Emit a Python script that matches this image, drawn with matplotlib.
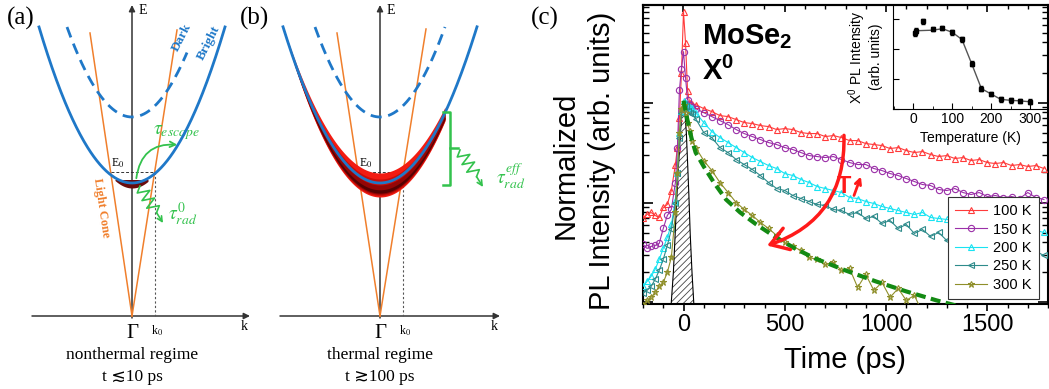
import numpy as np
import matplotlib
matplotlib.use("Agg")
import matplotlib.pyplot as plt
from matplotlib.patches import FancyArrowPatch
from matplotlib.ticker import MultipleLocator, LogLocator, NullFormatter

W, H = 1049, 389

plt.rcParams['font.family'] = ['Liberation Sans', 'DejaVu Sans']
plt.rcParams['mathtext.fontset'] = 'custom'
plt.rcParams['mathtext.rm'] = 'Liberation Sans'
plt.rcParams['mathtext.it'] = 'Liberation Sans:italic'
plt.rcParams['mathtext.bf'] = 'Liberation Sans:bold'
plt.rcParams['hatch.linewidth'] = 0.6
SERIF = ['Liberation Serif', 'DejaVu Serif', 'DejaVu Sans']

# ---------------- panel (c) data: log10 of normalized PL intensity
time_rise = [-200, -180, -160, -140, -120, -100, -80, -60, -40, -30, -20, -10, 0, 10, 20, 30, 40]
time_tail = np.arange(60, 1781, 40)
time_ps = np.concatenate([time_rise, time_tail])

pl_100K = [-1.16, -1.12, -1.10, -1.13, -1.15, -1.05, -1.02, -0.88, -0.62, -0.45, -0.15, 0.30, 0.91, 0.60, 0.12, 0.00, -0.01,
           -0.02, -0.06, -0.09, -0.13, -0.14, -0.17, -0.20, -0.21, -0.23, -0.24, -0.27, -0.26, -0.27, -0.30, -0.31,
           -0.31, -0.34, -0.33, -0.35, -0.38, -0.38, -0.41, -0.42, -0.43, -0.46, -0.45, -0.48, -0.50, -0.49, -0.52,
           -0.54, -0.53, -0.56, -0.55, -0.58, -0.57, -0.60, -0.61, -0.60, -0.63, -0.62, -0.64, -0.63, -0.66]
pl_150K = [-1.42, -1.46, -1.44, -1.43, -1.41, -1.26, -1.13, -1.07, -0.80, -0.45, 0.13, 0.34, 0.51, 0.25, 0.03, -0.02, -0.04,
           -0.06, -0.10, -0.14, -0.18, -0.22, -0.27, -0.31, -0.34, -0.37, -0.40, -0.42, -0.45, -0.47, -0.50, -0.53,
           -0.54, -0.55, -0.54, -0.57, -0.60, -0.62, -0.62, -0.66, -0.68, -0.71, -0.73, -0.76, -0.79, -0.82, -0.83,
           -0.87, -0.88, -0.86, -0.90, -0.92, -0.90, -0.94, -0.93, -0.95, -0.94, -0.96, -0.90, -0.95, -0.97]
pl_200K = [-1.84, -1.79, -1.74, -1.67, -1.57, -1.46, -1.35, -1.22, -0.98, -0.70, -0.30, -0.08, 0.02, 0.00, -0.03, -0.04, -0.05,
           -0.10, -0.20, -0.29, -0.35, -0.40, -0.45, -0.50, -0.55, -0.59, -0.63, -0.66, -0.71, -0.73, -0.77, -0.80,
           -0.84, -0.86, -0.88, -0.90, -0.95, -0.96, -0.99, -1.01, -1.04, -1.06, -1.08, -1.10, -1.12, -1.10, -1.15,
           -1.16, -1.17, -1.18, -1.20, -1.19, -1.21, -1.22, -1.23, -1.25, -1.24, -1.26, -1.27, -1.28, -1.30]
pl_250K = [-1.91, -1.88, -1.84, -1.77, -1.68, -1.57, -1.43, -1.27, -1.00, -0.70, -0.35, -0.10, -0.01, -0.03, -0.08, -0.10, -0.11,
           -0.16, -0.30, -0.35, -0.45, -0.50, -0.57, -0.62, -0.67, -0.73, -0.80, -0.86, -0.88, -0.93, -0.96, -0.99,
           -1.02, -1.03, -1.07, -1.08, -1.12, -1.10, -1.16, -1.14, -1.21, -1.18, -1.26, -1.22, -1.31, -1.27, -1.34,
           -1.30, -1.38, -1.35, -1.41, -1.38, -1.45, -1.41, -1.47, -1.44, -1.50, -1.46, -1.52, -1.49, -1.53]
nan = np.nan
pl_300K = [-2.03, -1.98, -1.95, -1.90, -1.84, -1.80, -1.70, -1.55, -1.10, -0.70, -0.30, -0.06, -0.02, -0.10, -0.20, -0.28, -0.38,
           -0.45, -0.58, -0.68, -0.80, -0.90, -1.00, -1.07, -1.13, -1.20, -1.26, -1.33, -1.40, -1.44, -1.48, -1.55,
           -1.57, -1.62, -1.60, -1.68, -1.66, -1.85, -1.72, -1.88, -1.80, -1.95, -1.86, -1.98, -1.93, -2.10, nan,
           nan, nan, nan, nan, nan, nan, nan, nan, nan, nan, nan, nan, nan, nan]
temp_labels = ['100 K', '150 K', '200 K', '250 K', '300 K']

# bi-exponential fit of the 300 K trace (green dashed)
fit_t = [0, 20, 40, 60, 100, 150, 210, 280, 360, 450, 550, 650, 800, 950, 1100, 1250, 1400]
fit_log = [0.02, -0.18, -0.36, -0.50, -0.64, -0.80, -0.97, -1.10, -1.22, -1.34, -1.46, -1.56, -1.68, -1.79, -1.89, -1.98, -2.06]

# instrument response (hatched)
irf_t = [-62, -50, -41, -33, -25, -15, -7, 0, 7, 14, 21, 27, 33, 42, 52]
irf_log = [-2.05, -1.70, -1.31, -0.95, -0.64, -0.30, -0.08, 0.0, -0.10, -0.30, -0.64, -0.95, -1.31, -1.70, -2.05]

# inset: integrated X0 PL vs temperature
inset_T = [4, 7, 25, 50, 75, 100, 125, 150, 175, 200, 225, 250, 275, 300]
inset_I = [2.52, 2.61, 2.93, 2.67, 2.70, 2.56, 2.32, 1.51, 0.68, 0.50, 0.32, 0.29, 0.27, 0.24]
inset_fit_T = [5, 50, 75, 100, 125, 150, 175, 200, 225, 250, 275, 300]
inset_fit_I = [2.61, 2.63, 2.68, 2.56, 2.32, 1.51, 0.68, 0.50, 0.32, 0.29, 0.27, 0.24]

fig = plt.figure(figsize=(W / 100, H / 100), dpi=100)

# ---------------- panels (a) and (b): schematic drawn in pixel coordinates
bg = fig.add_axes([0, 0, 1, 1], zorder=0)
bg.set_xlim(0, W)
bg.set_ylim(H, 0)
bg.axis('off')

BLUE = '#1f78c8'
ORANGE = '#f07f2c'
GREEN = '#33c24d'
K_Y = 316          # k axis
V_BRIGHT = 183     # bright band minimum
V_DARK = 117       # dark band minimum
E0_Y = 172
axis_arrow = dict(arrowstyle='-|>', color='#333333', lw=1.1, mutation_scale=9, shrinkA=0, shrinkB=0)


def schematic(cx, x_left, x_right, a_bright, half_bright, a_dark, dark_lo, dark_hi, cone_l, cone_r):
    bg.annotate('', xy=(x_right, K_Y), xytext=(x_left, K_Y), arrowprops=axis_arrow)
    bg.annotate('', xy=(cx, 5), xytext=(cx, K_Y + 2), arrowprops=axis_arrow)
    # light cone
    for tx, ty in (cone_l, cone_r):
        bg.plot([cx, tx], [K_Y, ty], color=ORANGE, lw=1.1, zorder=3)
    # dispersions
    dx = np.linspace(-half_bright, half_bright, 300)
    bg.plot(cx + dx, V_BRIGHT - a_bright * dx ** 2, color=BLUE, lw=2.0, zorder=5)
    dx = np.linspace(dark_lo, dark_hi, 300)
    bg.plot(cx + dx, V_DARK - a_dark * dx ** 2, color=BLUE, lw=2.0, ls=(0, (4, 2.4)), zorder=5)
    # E0 and k0 guides
    frac = (K_Y - E0_Y)
    xl = cx + (cone_l[0] - cx) * frac / (K_Y - cone_l[1])
    xr = cx + (cone_r[0] - cx) * frac / (K_Y - cone_r[1])
    bg.plot([xl, xr], [E0_Y, E0_Y], color='#333333', lw=0.7, ls=(0, (3, 2)), zorder=4)
    bg.plot([xr, xr], [E0_Y, K_Y], color='#555555', lw=0.8, ls=(0, (2, 2)), zorder=4)
    bg.text(cx - 14, E0_Y - 9, r'E$_0$', fontsize=8.5, family=SERIF, math_fontfamily='stix',
            ha='center', va='center')
    bg.text(xr + 2, K_Y + 15, r'k$_0$', fontsize=8.5, family=SERIF, math_fontfamily='stix',
            ha='center', va='center')
    bg.text(cx + 11, 10, 'E', fontsize=10, family=SERIF, ha='center', va='center')
    bg.text(x_right - 6, K_Y + 11, 'k', fontsize=10, family=SERIF, ha='center', va='center')
    bg.text(cx, K_Y + 18, 'Γ', fontsize=15, family=SERIF, ha='center', va='center')


def wavy_arrow(x0, y0, x1, y1, amp, nzig):
    p0 = np.array([x0, y0], float)
    p1 = np.array([x1, y1], float)
    d = p1 - p0
    L = np.hypot(*d)
    u = d / L
    nv = np.array([-u[1], u[0]])
    s = np.linspace(0, 0.72, nzig + 1)
    sign = np.array([0] + [1 if i % 2 == 0 else -1 for i in range(nzig - 1)] + [0])
    pts = p0 + np.outer(s * L, u) + np.outer(sign * amp, nv)
    bg.plot(pts[:, 0], pts[:, 1], color=GREEN, lw=1.2, zorder=6)
    bg.annotate('', xy=p1, xytext=pts[-1],
                arrowprops=dict(arrowstyle='->', color=GREEN, lw=1.2, shrinkA=0, shrinkB=0, mutation_scale=9))


# panel (a): nonthermal
schematic(132, 32, 250, 0.01804, 93, 0.0213, -65, 55, (90, 33), (177, 30))
dx = np.linspace(-17, 16, 100)
bg.fill_between(132 + dx, 179.5, np.maximum(188 - 0.026 * dx ** 2, 179.5), color='#6a0c0c', lw=0, zorder=4)
bg.add_patch(FancyArrowPatch((136, 181), (180, 145), connectionstyle='arc3,rad=-0.5',
                             arrowstyle='->', mutation_scale=10, color=GREEN, lw=1.3, zorder=6))
wavy_arrow(140, 186, 163, 223, 6, 7)
bg.text(176, 133, r'$\tau_{escape}$', fontsize=14, color=GREEN, math_fontfamily='stix', ha='center', va='center')
bg.text(183, 214, r'$\tau^{0}_{rad}$', fontsize=14, color=GREEN, math_fontfamily='stix', ha='center', va='center')
bg.text(101, 208, 'Light Cone', rotation=-81.6, fontsize=9, color=ORANGE, family=SERIF, weight='bold',
        ha='center', va='center')
bg.text(182, 37, 'Dark', rotation=63, fontsize=9.5, color=BLUE, family=SERIF, weight='bold',
        ha='center', va='center')
bg.text(209, 43, 'Bright', rotation=63, fontsize=9.5, color=BLUE, family=SERIF, weight='bold',
        ha='center', va='center')
bg.text(132, 355, 'nonthermal regime', fontsize=12.5, family=SERIF, ha='center', va='center')
bg.text(132, 377, 't ≲10 ps', fontsize=12.5, family=SERIF, ha='center', va='center')

# panel (b): thermal
schematic(380, 280, 500, 0.0166, 97, 0.0213, -65, 65, (337, 33), (426, 29))
dx = np.linspace(-97, 65, 400)
pc = V_BRIGHT - 0.0166 * dx ** 2
g = np.clip(1 - (dx / 100) ** 2, 0, None)
up, lo = 10 * g, 14 * g
for f, col in [(1.0, '#f21c12'), (0.75, '#cc0e08'), (0.5, '#940606'), (0.3, '#560202')]:
    bg.fill_between(380 + dx, pc + lo - (up + lo) * f, pc + lo * (0.6 + 0.4 * f), color=col, lw=0, zorder=4)
bg.plot([443, 450, 450, 443], [112, 112, 185, 185], color=GREEN, lw=1.8, zorder=6)
bg.plot([450, 458], [148, 148], color=GREEN, lw=1.8, zorder=6)
wavy_arrow(460, 150, 483, 187, 6, 7)
bg.text(511, 176, r'$\tau^{eff}_{rad}$', fontsize=14, color=GREEN, math_fontfamily='stix', ha='center', va='center')
bg.text(380, 355, 'thermal regime', fontsize=12.5, family=SERIF, ha='center', va='center')
bg.text(380, 377, 't ≳100 ps', fontsize=12.5, family=SERIF, ha='center', va='center')

for px, lab in [(7, '(a)'), (240, '(b)'), (531, '(c)')]:
    fig.text(px / W, 1 - 18 / H, lab, fontsize=18, family=SERIF, ha='left', va='center')

# ---------------- panel (c): time-resolved PL
ax = fig.add_axes([643 / W, 1 - 304 / H, (1048 - 643) / W, (304 - 5) / H], zorder=1)
styles = [('#ff3b3b', '^'), ('#9b30a8', 'o'), ('#19e3f2', '^'), ('#2e8b8b', '<'), ('#8f8f2a', '*')]
for vals, lab, (col, mk) in zip([pl_100K, pl_150K, pl_200K, pl_250K, pl_300K], temp_labels, styles):
    ax.plot(time_ps, 10 ** np.array(vals, float), color=col, lw=0.8, marker=mk, ms=5 if mk != 'o' else 4.5,
            mfc='none', mec=col, mew=0.8, label=lab, zorder=3)

irf = 10 ** np.array(irf_log)
ax.fill_between(irf_t, irf, 10 ** -2.1, facecolor='none', edgecolor='#444444', hatch='/////', lw=0, zorder=2)
ax.plot(irf_t, irf, color='black', lw=0.8, zorder=2)
ax.plot(fit_t, 10 ** np.array(fit_log), color='#138a13', lw=3, ls=(0, (2.4, 1.3)), zorder=4)

ax.set_yscale('log')
ax.set_xlim(-200, 1800)
ax.set_ylim(10 ** -2.016, 10 ** 0.977)
ax.xaxis.set_major_locator(MultipleLocator(500))
ax.xaxis.set_minor_locator(MultipleLocator(100))
ax.yaxis.set_major_locator(LogLocator(base=10))
ax.yaxis.set_minor_locator(LogLocator(base=10, subs=np.arange(2, 10)))
ax.yaxis.set_major_formatter(NullFormatter())
ax.yaxis.set_minor_formatter(NullFormatter())
ax.tick_params(axis='x', which='both', direction='out', labelsize=17, pad=2)
ax.tick_params(axis='x', which='major', length=5, width=1.2)
ax.tick_params(axis='x', which='minor', length=3, width=1)
ax.tick_params(axis='y', which='both', direction='in', left=True, right=True)
ax.tick_params(axis='y', which='major', length=7, width=1.2)
ax.tick_params(axis='y', which='minor', length=4, width=1)
for sp in ax.spines.values():
    sp.set_linewidth(1.5)
top = ax.secondary_xaxis('top')
top.xaxis.set_major_locator(MultipleLocator(500))
top.xaxis.set_minor_locator(MultipleLocator(100))
top.tick_params(which='both', direction='in', labeltop=False)
top.tick_params(which='major', length=5, width=1.2)
top.tick_params(which='minor', length=3, width=1)
top.spines['top'].set_linewidth(1.5)

fig.text(845 / W, 1 - 360 / H, 'Time (ps)', fontsize=21, ha='center', va='center')
# two-line y label, one text per line
fig.text(566 / W, 1 - 165 / H, 'Normalized', fontsize=21, rotation=90, ha='center', va='center')
fig.text(602 / W, 1 - 161 / H, 'PL Intensity (arb. units)', fontsize=21, rotation=90, ha='center', va='center')

ax.text(90, 10 ** 0.66, r'$\mathbf{MoSe}_\mathbf{2}$', fontsize=21, ha='left', va='center')
ax.text(90, 10 ** 0.31, r'$\mathbf{X}^\mathbf{0}$', fontsize=21, ha='left', va='center')

ax.add_patch(FancyArrowPatch((792, 10 ** -0.30), (400, 10 ** -1.44), connectionstyle='arc3,rad=-0.38',
                             arrowstyle='->,head_length=0.7,head_width=0.45', mutation_scale=18,
                             color='#ff1a1a', lw=2.5, zorder=6))
ax.text(790, 10 ** -0.84, 'T', fontsize=17, weight='bold', color='#ff1a1a', ha='center', va='center', zorder=6)
ax.annotate('', xy=(876, 10 ** -0.74), xytext=(842, 10 ** -0.93),
            arrowprops=dict(arrowstyle='->', color='#ff1a1a', lw=2, shrinkA=0, shrinkB=0, mutation_scale=10),
            zorder=6)

leg = ax.legend(loc='lower right', bbox_to_anchor=(0.978, 0.017), borderaxespad=0, fontsize=10.5,
                handlelength=2.2, labelspacing=0.3, fancybox=False, edgecolor='#333333', framealpha=1,
                borderpad=0.5, handletextpad=0.4)
leg.get_frame().set_linewidth(0.8)

# inset
ins = fig.add_axes([893 / W, 1 - 109 / H, (1048 - 893) / W, (109 - 5) / H], zorder=2)
ins.set_facecolor('none')
ins.plot(inset_fit_T, inset_fit_I, color='#555555', lw=1)
ins.errorbar(inset_T, inset_I, yerr=0.08, fmt='s', color='black', ms=3.5, elinewidth=0.8, capsize=1.5)
ins.set_xlim(-52, 346)
ins.set_ylim(0, 3.47)
ins.xaxis.set_major_locator(MultipleLocator(100))
ins.xaxis.set_minor_locator(MultipleLocator(50))
ins.yaxis.set_major_locator(MultipleLocator(1))
ins.set_yticklabels([])
ins.tick_params(which='both', direction='in', labelsize=10, pad=2)
ins.tick_params(which='major', length=4)
ins.tick_params(which='minor', length=2.5)
ins.spines['top'].set_visible(False)
ins.spines['right'].set_visible(False)
ins.set_xlabel('Temperature (K)', fontsize=10, labelpad=4)
ins.set_ylabel('X$^0$ PL Intensity\n(arb. units)', fontsize=10, labelpad=5, linespacing=1.1)

fig.savefig('out.png', dpi=100)
